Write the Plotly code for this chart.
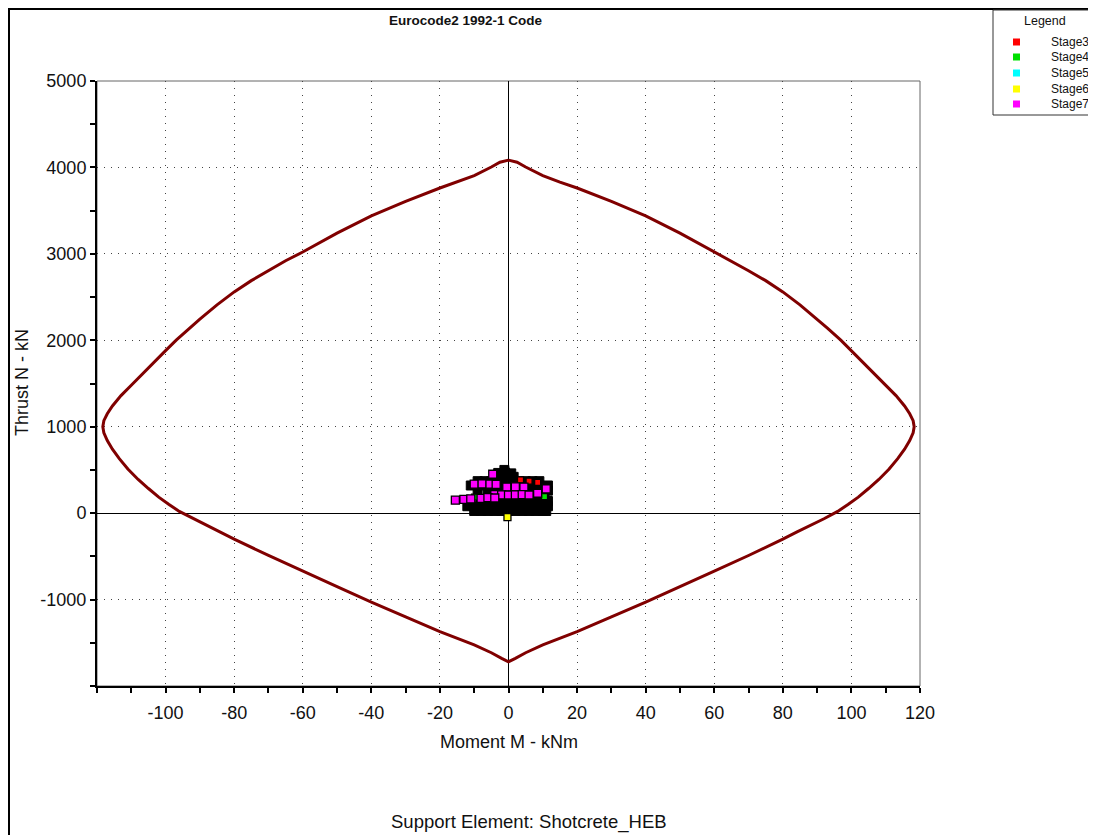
import plotly.graph_objects as go

# ---------------- data ----------------
# Capacity envelope, left half listed from top going anticlockwise, right half listed too
env_m = [0, 2.5, 5, 10, 15, 20, 30, 40, 50, 60, 65, 70, 75, 80, 85, 90, 93, 96.9, 100, 104,
         107.6, 110, 113, 115.5, 117, 118, 118.3,
         118, 117, 115.5, 113.5, 111, 108, 105, 102, 99, 96, 92, 88, 84, 80,
         70, 60, 50, 40, 30, 20, 10, 5, 2, 0,
         -2, -5, -10, -20, -30, -40, -50, -60, -70,
         -80, -84, -88, -92, -96, -99, -102, -105, -108, -111, -113.5, -115.5, -117, -118,
         -118.3, -118, -117, -115.5, -113, -110, -107.6, -104, -100, -96.9, -93, -90, -85,
         -80, -75, -70, -65, -60, -50, -40, -30, -20, -15, -10, -5, -2.5, 0]
env_n = [4085, 4060, 4005, 3905, 3830, 3762, 3607, 3440, 3240, 3021, 2920, 2805, 2690, 2560,
         2410, 2245, 2140, 2002, 1880, 1720, 1578, 1480, 1360, 1240, 1150, 1070, 1000,
         930, 840, 740, 630, 510, 390, 285, 185, 100, 20, -65, -140, -220, -300,
         -490, -670, -850, -1030, -1200, -1370, -1525, -1615, -1680, -1720,
         -1680, -1615, -1525, -1370, -1200, -1030, -850, -670, -490,
         -300, -220, -140, -65, 20, 100, 185, 285, 390, 510, 630, 740, 840, 930,
         1000, 1070, 1150, 1240, 1360, 1480, 1578, 1720, 1880, 2002, 2140, 2245, 2410,
         2560, 2690, 2805, 2920, 3021, 3240, 3440, 3607, 3762, 3830, 3905, 4005, 4060, 4085]

# densely overlapping liner results (appear as a black mass)
dense_m = [-10, -8, -6, -4, -2, 0, 2, 4, 6, 8, 10, 11,
           -12, -10, -8, -6, -4, -2, 0, 2, 4, 6, 8, 10, 11.5,
           -8, -6, -4, -2, 0, 2, 4, 6, 8, 10, 11.5,
           -3, -1, 1, 3, 5, 7, 9, 10.5,
           -9, -6, -2, 0, 2, 4, 6, 8, 10, 11.5,
           -11, -9, -7, -5, -3, -1, 1, 3, 5, 7, 9, 11.5,
           -9, -7, -5, -3, -1, 1, 3, 5, 7, 9,
           -4, -2, 0, 1.5,
           -3, -1, 0.8,
           -1.2]
dense_n = [25, 25, 25, 25, 25, 25, 25, 25, 25, 25, 25, 25,
           80, 80, 80, 80, 80, 80, 80, 80, 80, 80, 80, 80, 80,
           140, 140, 140, 140, 140, 140, 140, 140, 140, 140, 140,
           200, 200, 200, 200, 200, 200, 200, 200,
           260, 260, 260, 260, 260, 260, 260, 260, 260, 260,
           320, 320, 320, 320, 320, 320, 320, 320, 320, 320, 320, 320,
           370, 370, 370, 370, 370, 370, 370, 370, 370, 370,
           420, 420, 420, 420,
           465, 470, 460,
           500]

stage_names = ["Stage3", "Stage4", "Stage5", "Stage6", "Stage7"]
stage_colors = ["#ff0000", "#00e000", "#00ffff", "#ffff00", "#ff00ff"]

stage3_m = [3.5, 6, 8.5]
stage3_n = [385, 370, 355]
stage4_m = [-9.9, 10.5]
stage4_n = [185, 190]
stage5_m = [5]
stage5_n = [60]
stage6_m = [-0.3]
stage6_n = [-45]
stage7_m = [-10, -7.7, -5.4, -3.6, -4.6,
            -0.5, 2, 4.5, 11,
            -4, -2, 0, 2, 4, 6, 8.5,
            -15.5, -13, -11, -8, -6, -4]
stage7_n = [335, 338, 336, 334, 450,
            300, 305, 300, 280,
            215, 212, 210, 212, 214, 210, 230,
            150, 160, 165, 170, 180, 175]

stage_m = [stage3_m, stage4_m, stage5_m, stage6_m, stage7_m]
stage_n = [stage3_n, stage4_n, stage5_n, stage6_n, stage7_n]

x_ticks = [-120, -100, -80, -60, -40, -20, 0, 20, 40, 60, 80, 100, 120]
x_labels = ["", "-100", "-80", "-60", "-40", "-20", "0", "20", "40", "60", "80", "100", "120"]
y_ticks = [-2000, -1000, 0, 1000, 2000, 3000, 4000, 5000]
y_labels = ["", "-1000", "0", "1000", "2000", "3000", "4000", "5000"]

# ---------------- layout geometry (page pixels; page body has an 8px margin) ----------------
OFF = 8
W, H = 1096 - 2 * OFF, 835 - OFF
L, R, T, B = 97 - OFF, 920 - OFF, 81 - OFF, 686 - OFF
PW, PH = R - L, B - T


def px(xp):
    return (xp - OFF - L) / PW


def py(yp):
    return 1 - (yp - OFF - T) / PH


FONT = "Liberation Sans, Arial, sans-serif"

fig = go.Figure()

fig.add_trace(go.Scatter(x=env_m, y=env_n, mode="lines",
                         line=dict(color="#800000", width=3),
                         showlegend=False, hoverinfo="skip"))


def stage_trace(i, size):
    return go.Scatter(x=stage_m[i], y=stage_n[i], mode="markers", name=stage_names[i],
                      marker=dict(symbol="square", size=size, color=stage_colors[i],
                                  line=dict(color="black", width=1.3)),
                      showlegend=False)


# hidden stage underneath the dense mass
fig.add_trace(stage_trace(2, 8))
fig.add_trace(go.Scatter(x=dense_m, y=dense_n, mode="markers",
                         marker=dict(symbol="square", size=9, color="black",
                                     line=dict(color="black", width=1)),
                         showlegend=False, hoverinfo="skip"))
fig.add_trace(stage_trace(0, 6))
fig.add_trace(stage_trace(1, 6))
fig.add_trace(stage_trace(3, 7))
fig.add_trace(stage_trace(4, 8))

axis_common = dict(
    showline=True, linecolor="black", linewidth=2,
    ticks="outside", ticklen=5, tickwidth=2, tickcolor="black",
    showgrid=True, gridcolor="#444444", gridwidth=1, griddash="1px,6px",
    zeroline=True, zerolinecolor="black", zerolinewidth=1,
    tickfont=dict(family=FONT, size=18, color="#111111"),
    tickmode="array", fixedrange=True,
)

fig.update_xaxes(range=[-120, 120], tickvals=x_ticks, ticktext=x_labels,
                 minor=dict(dtick=10, tick0=0, ticks="outside", ticklen=5, tickwidth=2,
                            tickcolor="black", showgrid=False),
                 ticklabelstandoff=4, **axis_common)
fig.update_yaxes(range=[-2000, 5000], tickvals=y_ticks, ticktext=y_labels,
                 minor=dict(dtick=500, tick0=0, ticks="outside", ticklen=5, tickwidth=2,
                            tickcolor="black", showgrid=False),
                 **axis_common)

shapes = [
    # thin frame around plot area
    dict(type="rect", xref="paper", yref="paper", x0=0, x1=1, y0=0, y1=1,
         line=dict(color="#666666", width=1), layer="below"),
    # outer border of the picture
    dict(type="rect", xref="paper", yref="paper", x0=px(9), x1=px(1120), y0=py(860), y1=py(9),
         line=dict(color="black", width=2)),
    # legend box
    dict(type="rect", xref="paper", yref="paper", x0=px(993), x1=px(1120), y0=py(115), y1=py(10),
         line=dict(color="#333333", width=1), fillcolor="white"),
]

legend_rows = [42, 57, 73, 89, 104]
annotations = [
    dict(text="<b>Eurocode2 1992-1 Code</b>", x=px(466), y=py(21), xref="paper", yref="paper",
         showarrow=False, xanchor="center", yanchor="middle",
         font=dict(family=FONT, size=13.5, color="#111111")),
    dict(text="Moment M - kNm", x=px(509), y=py(742), xref="paper", yref="paper",
         showarrow=False, xanchor="center", yanchor="middle",
         font=dict(family=FONT, size=18, color="#111111")),
    dict(text="Thrust N - kN", x=px(22), y=py(383), xref="paper", yref="paper",
         showarrow=False, xanchor="center", yanchor="middle", textangle=-90,
         font=dict(family=FONT, size=18, color="#111111")),
    dict(text="Support Element: Shotcrete_HEB", x=px(529), y=py(822), xref="paper", yref="paper",
         showarrow=False, xanchor="center", yanchor="middle",
         font=dict(family=FONT, size=18.5, color="#111111")),
    dict(text="Legend", x=px(1045), y=py(21), xref="paper", yref="paper",
         showarrow=False, xanchor="center", yanchor="middle",
         font=dict(family=FONT, size=12.5, color="#111111")),
]
for name, col, yr in zip(stage_names, stage_colors, legend_rows):
    shapes.append(dict(type="rect", xref="paper", yref="paper",
                       x0=px(1013), x1=px(1020), y0=py(yr + 3.5), y1=py(yr - 3.5),
                       line=dict(width=0), fillcolor=col))
    annotations.append(dict(text=name, x=px(1049), y=py(yr), xref="paper", yref="paper",
                            showarrow=False, xanchor="left", yanchor="middle",
                            font=dict(family=FONT, size=12, color="#111111")))

fig.update_layout(
    width=W, height=H,
    margin=dict(l=L, r=W - R, t=T, b=H - B, pad=0, autoexpand=False),
    plot_bgcolor="white", paper_bgcolor="white",
    showlegend=False,
    shapes=shapes, annotations=annotations,
)

fig.write_html("out.html")
